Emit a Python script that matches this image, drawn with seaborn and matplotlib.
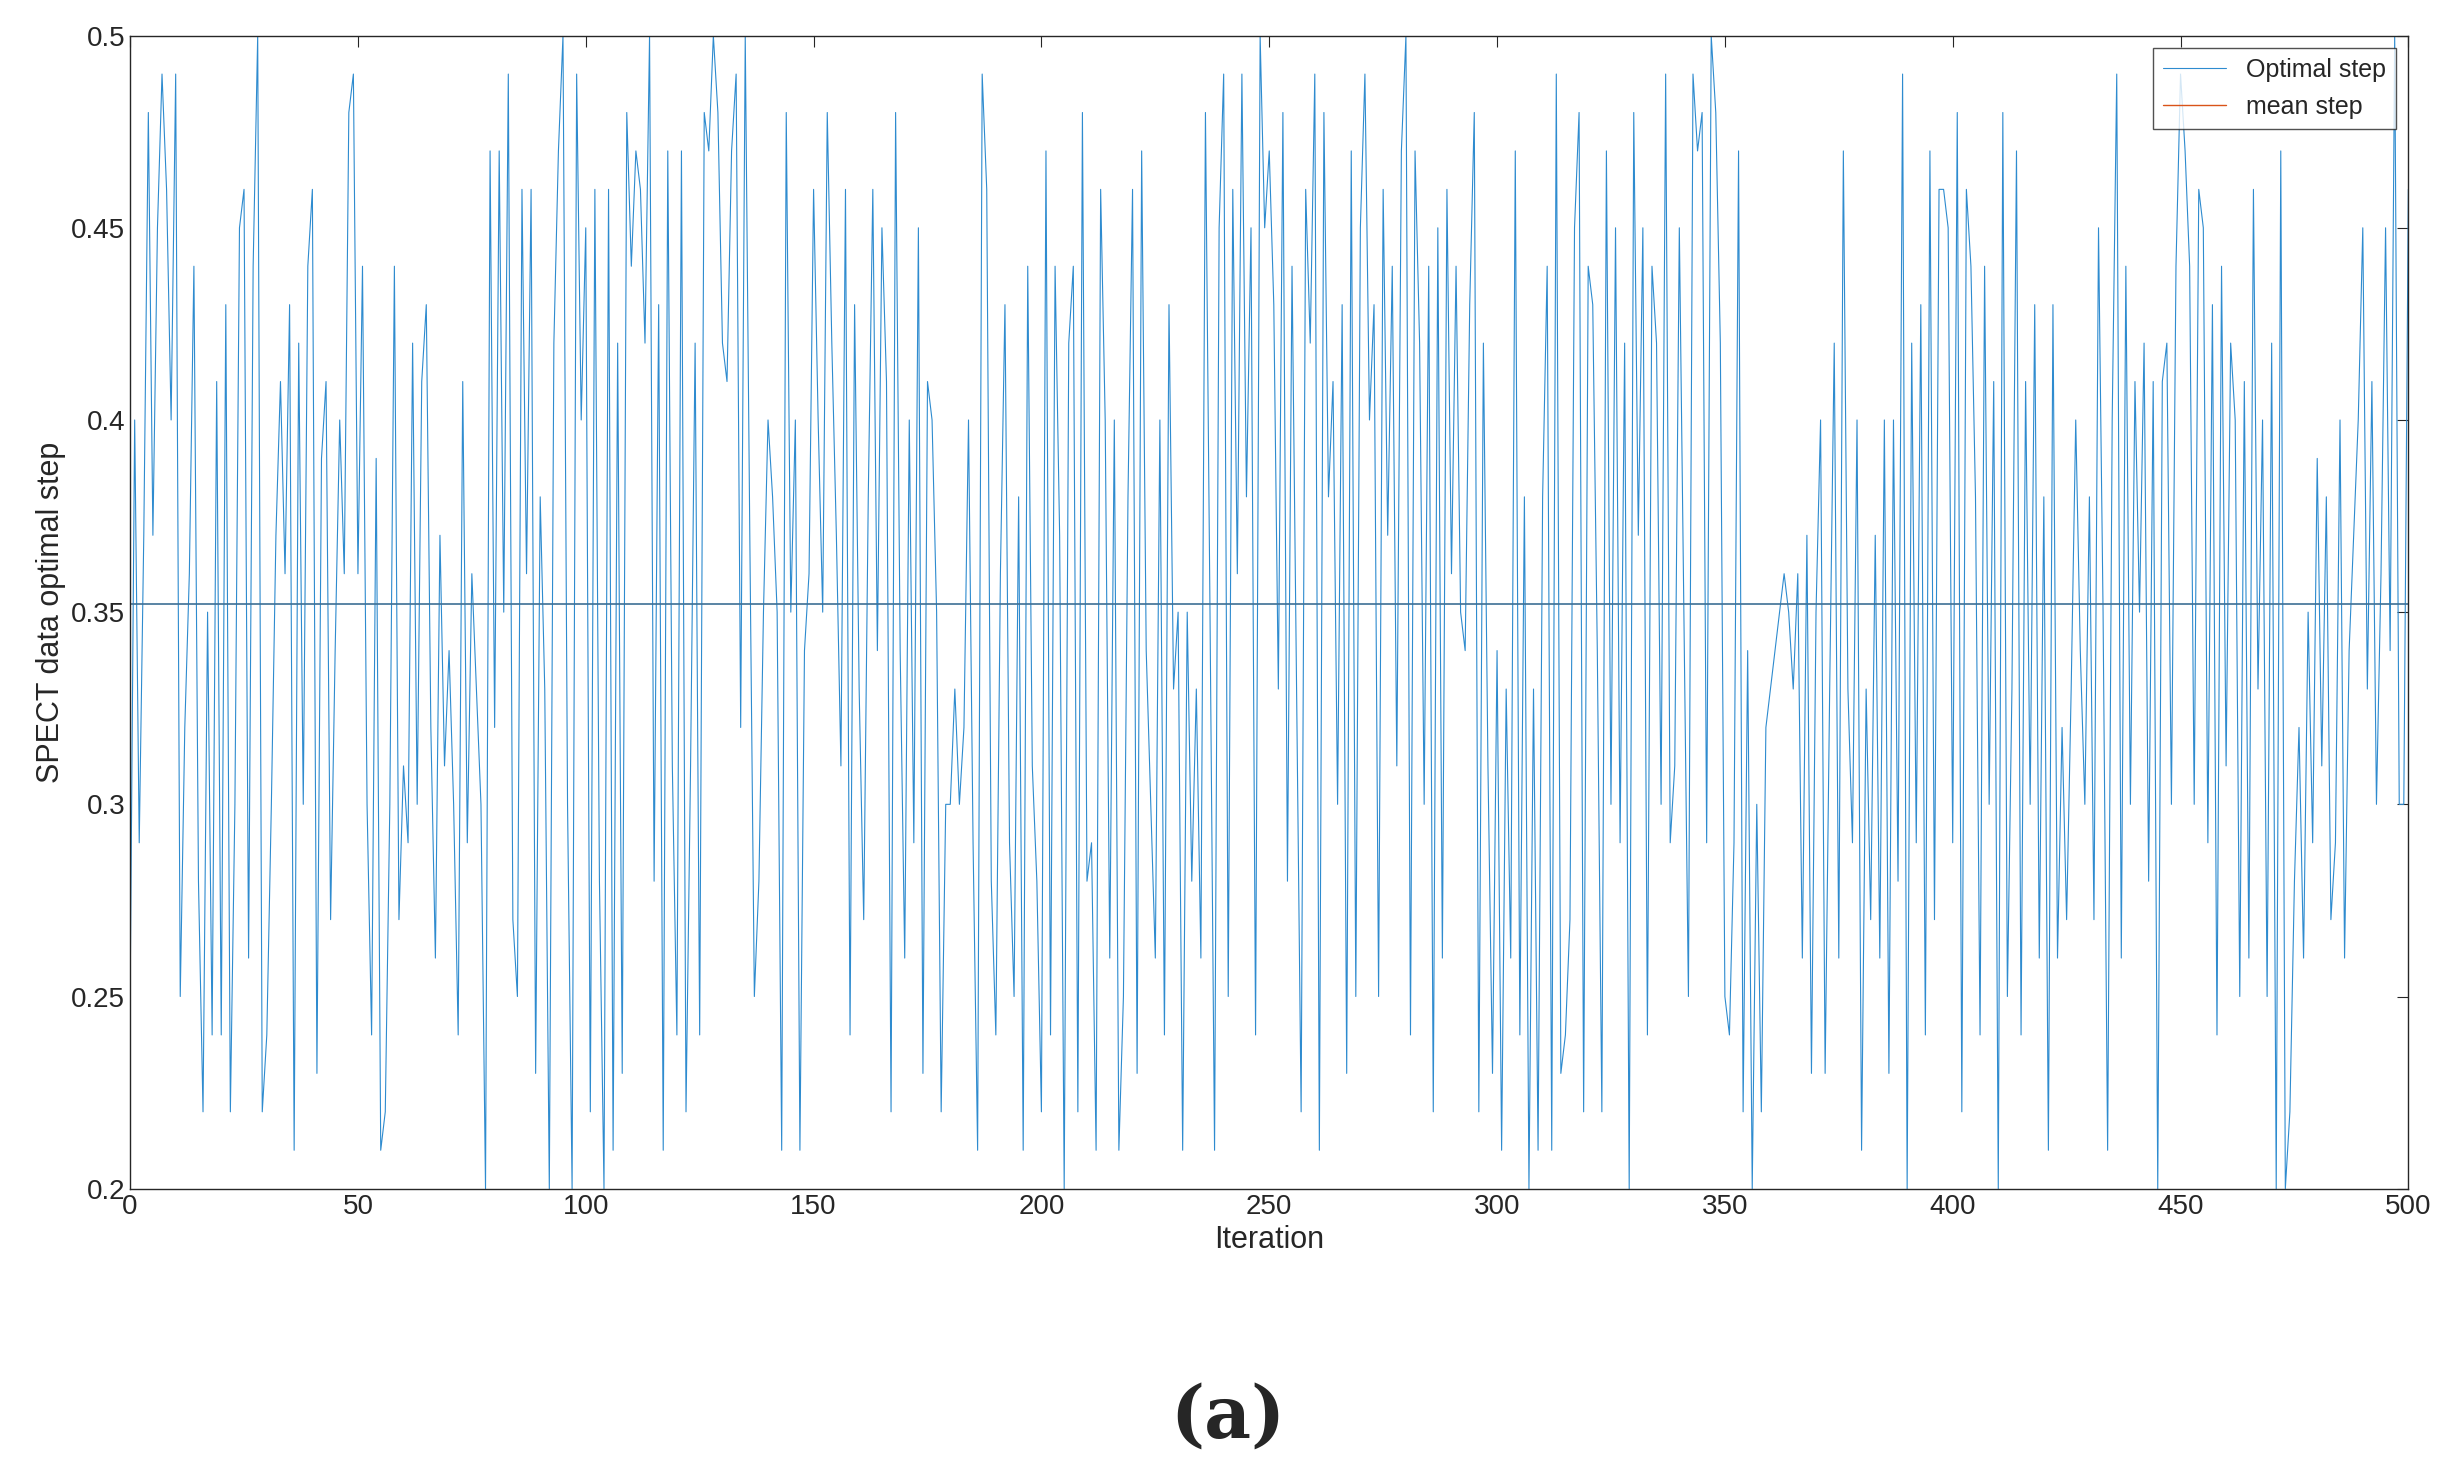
import numpy as np
import pandas as pd
import seaborn as sns
import matplotlib.pyplot as plt

steps = [
0.25,0.40,0.29,0.37,0.48,0.37,0.45,0.49,0.46,0.40,0.49,
0.25,0.32,0.36,0.44,0.28,0.22,0.35,0.24,0.41,0.24,
0.43,0.22,0.30,0.45,0.46,0.26,0.44,0.50,0.22,0.24,
0.30,0.37,0.41,0.36,0.43,0.21,0.42,0.30,0.44,0.46,
0.23,0.39,0.41,0.27,0.34,0.40,0.36,0.48,0.49,0.36,
0.44,0.30,0.24,0.39,0.21,0.22,0.30,0.44,0.27,0.31,
0.29,0.42,0.30,0.41,0.43,0.32,0.26,0.37,0.31,0.34,
0.30,0.24,0.41,0.29,0.36,0.33,0.30,0.20,0.47,0.32,
0.47,0.35,0.49,0.27,0.25,0.46,0.36,0.46,0.23,0.38,
0.33,0.20,0.42,0.47,0.50,0.30,0.20,0.49,0.40,0.45,
0.22,0.46,0.28,0.20,0.46,0.21,0.42,0.23,0.48,0.44,
0.47,0.46,0.42,0.50,0.28,0.43,0.21,0.47,0.31,0.24,
0.47,0.22,0.31,0.42,0.24,0.48,0.47,0.50,0.48,0.42,
0.41,0.47,0.49,0.32,0.50,0.37,0.25,0.28,0.35,0.40,
0.38,0.35,0.21,0.48,0.35,0.40,0.21,0.34,0.36,0.46,
0.40,0.35,0.48,0.42,0.37,0.31,0.46,0.24,0.43,0.33,
0.27,0.38,0.46,0.34,0.45,0.41,0.22,0.48,0.34,0.26,
0.40,0.29,0.45,0.23,0.41,0.40,0.35,0.22,0.30,0.30,
0.33,0.30,0.32,0.40,0.29,0.21,0.49,0.46,0.28,0.24,
0.36,0.43,0.29,0.25,0.38,0.21,0.44,0.31,0.28,0.22,
0.47,0.24,0.44,0.37,0.20,0.42,0.44,0.22,0.48,0.28,
0.29,0.21,0.46,0.40,0.26,0.40,0.21,0.25,0.38,0.46,
0.23,0.47,0.34,0.30,0.26,0.40,0.24,0.43,0.33,0.35,
0.21,0.35,0.28,0.33,0.26,0.48,0.35,0.21,0.45,0.49,
0.25,0.46,0.36,0.49,0.38,0.45,0.24,0.50,0.45,0.47,
0.43,0.33,0.48,0.28,0.44,0.33,0.22,0.46,0.42,0.49,
0.21,0.48,0.38,0.41,0.30,0.43,0.23,0.47,0.25,0.45,
0.49,0.40,0.43,0.25,0.46,0.37,0.44,0.31,0.47,0.50,
0.24,0.47,0.42,0.30,0.44,0.22,0.45,0.26,0.46,0.36,
0.44,0.35,0.34,0.43,0.48,0.22,0.42,0.31,0.23,0.34,
0.21,0.33,0.26,0.47,0.24,0.38,0.20,0.33,0.21,0.38,
0.44,0.21,0.49,0.23,0.24,0.27,0.45,0.48,0.22,0.44,
0.43,0.34,0.22,0.47,0.30,0.45,0.29,0.42,0.20,0.48,
0.37,0.45,0.24,0.44,0.42,0.30,0.49,0.29,0.31,0.45,
0.35,0.25,0.49,0.47,0.48,0.29,0.50,0.48,0.42,0.25,
0.24,0.29,0.47,0.22,0.34,0.20,0.30,0.22,0.32,0.33,
0.34,0.35,0.36,0.35,0.33,0.36,0.26,0.37,0.23,0.35,
0.40,0.23,0.33,0.42,0.26,0.47,0.33,0.29,0.40,0.21,
0.33,0.27,0.37,0.26,0.40,0.23,0.40,0.28,0.49,0.20,
0.42,0.29,0.43,0.24,0.47,0.27,0.46,0.46,0.45,0.29,
0.48,0.22,0.46,0.44,0.38,0.24,0.44,0.30,0.41,0.20,
0.48,0.25,0.33,0.47,0.24,0.41,0.30,0.43,0.26,0.38,
0.21,0.43,0.26,0.32,0.27,0.33,0.40,0.34,0.30,0.38,
0.27,0.45,0.35,0.21,0.40,0.49,0.26,0.44,0.30,0.41,
0.35,0.42,0.28,0.41,0.20,0.41,0.42,0.30,0.44,0.49,0.47,
0.44,0.30,0.46,0.45,0.29,0.43,0.24,0.44,0.31,0.42,
0.40,0.25,0.41,0.26,0.46,0.33,0.40,0.25,0.42,0.20,
0.47,0.20,0.22,0.28,0.32,0.26,0.35,0.29,0.39,0.31,
0.38,0.27,0.29,0.40,0.26,0.34,0.37,0.40,0.45,0.33,
0.41,0.30,0.36,0.45,0.34,0.50,0.30,0.30,0.46,0.21,
]
iters = list(range(len(steps)))
mean_step = 0.352

df = pd.DataFrame({"Iteration": iters, "step": steps})
sns.set_style("white")
plt.rcParams['font.family'] = ['Liberation Sans', 'DejaVu Sans']
fig = plt.figure(figsize=(24.55, 14.84), dpi=100)
ax = fig.add_axes([0.053, 0.199, 0.928, 0.777])
sns.lineplot(data=df, x="Iteration", y="step", ax=ax, color="#2E8BCF", lw=0.8, label="Optimal step")
ax.axhline(mean_step, color="#3d6f95", lw=1.2)
ax.plot([], [], color="#D95319", lw=1.0, label="mean step")
ax.set_xlim(0, 500); ax.set_ylim(0.2, 0.5)
ax.set_xticks(range(0, 501, 50))
ax.set_yticks([0.2, 0.25, 0.3, 0.35, 0.4, 0.45, 0.5])
ax.set_yticklabels(["0.2", "0.25", "0.3", "0.35", "0.4", "0.45", "0.5"])
ax.tick_params(labelsize=20, direction="in", length=8, top=True, right=True, colors="#262626")
for s in ax.spines.values():
    s.set_color("#262626"); s.set_linewidth(1)
ax.set_xlabel("Iteration", fontsize=22, color="#262626")
ax.set_ylabel("SPECT data optimal step", fontsize=22, color="#262626")
leg = ax.legend(loc="upper right", fontsize=18, frameon=True, fancybox=False, edgecolor="#262626", handlelength=2.5)
fig.text(0.5, 0.045, "(a)", ha="center", va="center", fontsize=52, fontweight="bold", family="DejaVu Serif")
fig.savefig("out.png", dpi=100)
